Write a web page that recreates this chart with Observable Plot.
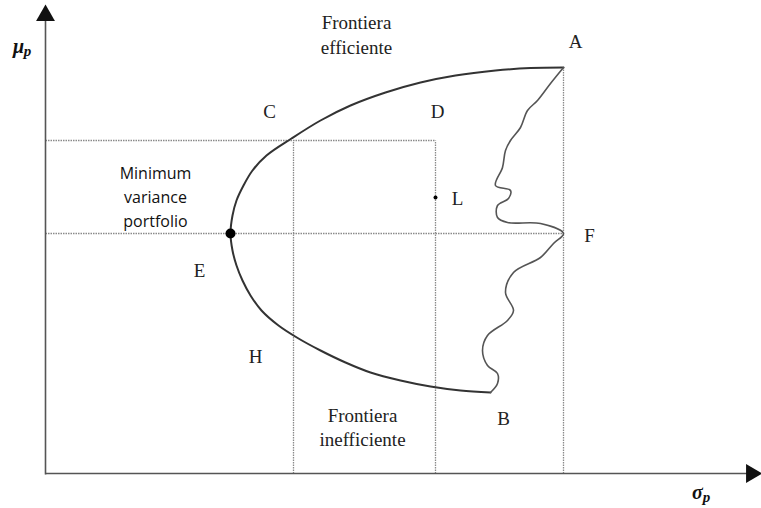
<!DOCTYPE html>
<html>
<head>
<meta charset="utf-8">
<script src="https://cdn.jsdelivr.net/npm/d3@7"></script>
<script src="https://cdn.jsdelivr.net/npm/@observablehq/plot@0.6"></script>
<style>
  html, body { margin: 0; padding: 0; background: #fff; }
</style>
</head>
<body>
<div id="chart"></div>
<script>
// Frontier (sigma, mu) from A through C, E, H to the bottom end near B
const frontierSigma = [518, 485, 450, 410, 375, 340, 305, 275, 246, 221, 207, 198, 191, 187, 185, 187, 191, 197, 205, 216, 233, 253, 275, 300, 325, 355, 385, 415, 445];
const frontierMu    = [406, 405.5, 403, 398, 391, 381, 368, 353, 335, 318, 303, 288, 273, 258, 240, 223, 208, 193, 178, 163, 148, 135, 123, 111, 101, 93, 87, 83, 81];

// Irregular right boundary, from the bottom end up to F then to A
const edgeSigma = [445, 452, 452, 442, 437, 442, 462, 468, 460, 468, 495, 508, 518, 495, 462, 452, 452, 463, 465, 450, 457, 460, 465, 475, 482, 492, 505, 518];
const edgeMu    = [81, 90, 100, 108, 123, 138, 153, 163, 181, 201, 216, 230, 240, 250, 251, 256, 268, 275, 283, 288, 306, 323, 333, 346, 363, 373, 390, 406];

// Key levels
const sigmaA = 518, muA = 406, muF = 240;
const sigmaE = 185, muE = 240;
const sigmaC = 248, muC = 333;
const sigmaD = 390, sigmaL = 390, muL = 276;

// Labels
const letterText = ["A", "C", "D", "L", "F", "E", "H", "B"];
const letterX    = [530, 224, 392, 412, 544, 154, 210, 458];
const letterY    = [432, 362, 362, 275, 238, 203, 117, 55];

const serifText = ["Frontiera", "efficiente", "Frontiera", "inefficiente"];
const serifX    = [311, 311, 317, 317];
const serifY    = [451, 426, 58, 34];

const mvText = ["Minimum", "variance", "portfolio"];
const mvX    = [110, 110, 110];
const mvY    = [300, 276, 252];

const frontier = frontierSigma.map((s, i) => ({s, m: frontierMu[i]}));
const edge = edgeSigma.map((s, i) => ({s, m: edgeMu[i]}));
const letters = letterText.map((t, i) => ({t, x: letterX[i], y: letterY[i]}));
const serifs = serifText.map((t, i) => ({t, x: serifX[i], y: serifY[i]}));
const mv = mvText.map((t, i) => ({t, x: mvX[i], y: mvY[i]}));

const guides = [
  {x1: sigmaA, y1: 0, x2: sigmaA, y2: muA},
  {x1: 0, y1: muF, x2: sigmaA, y2: muF},
  {x1: 0, y1: muC, x2: sigmaD, y2: muC},
  {x1: sigmaD, y1: 0, x2: sigmaD, y2: muC},
  {x1: sigmaC, y1: 0, x2: sigmaC, y2: muC}
];

const serif = "Liberation Serif, Times New Roman, serif";

const chart = Plot.plot({
  width: 761,
  height: 508,
  marginLeft: 45,
  marginRight: 6,
  marginTop: 10,
  marginBottom: 35,
  x: {domain: [0, 710], axis: null},
  y: {domain: [0, 463], axis: null},
  style: {background: "#fff", overflow: "visible"},
  marks: [
    // dotted guide lines
    Plot.link(guides, {x1: "x1", y1: "y1", x2: "x2", y2: "y2", stroke: "#8a8a8a", strokeWidth: 1.3, strokeDasharray: "1.5,1"}),
    // axes
    Plot.link([{x1: 0, y1: -1, x2: 0, y2: 455}], {x1: "x1", y1: "y1", x2: "x2", y2: "y2", stroke: "#555", strokeWidth: 1.6}),
    Plot.link([{x1: 0, y1: 0, x2: 705, y2: 0}], {x1: "x1", y1: "y1", x2: "x2", y2: "y2", stroke: "#555", strokeWidth: 1.6}),
    Plot.dot([{x: 0, y: 458}], {x: "x", y: "y", symbol: "triangle", r: 7, fill: "#111", stroke: "none"}),
    Plot.dot([{x: 706, y: 0}], {x: "x", y: "y", symbol: "triangle", r: 7, fill: "#111", stroke: "none", rotate: 90}),
    // frontier
    Plot.line(frontier, {x: "s", y: "m", curve: "catmull-rom", stroke: "#333", strokeWidth: 2}),
    Plot.line(edge, {x: "s", y: "m", curve: "catmull-rom", stroke: "#555", strokeWidth: 1.6}),
    // points
    Plot.dot([{x: sigmaE, y: muE}], {x: "x", y: "y", r: 5, fill: "#000"}),
    Plot.dot([{x: sigmaL, y: muL}], {x: "x", y: "y", r: 2, fill: "#000"}),
    // labels
    Plot.text(letters, {x: "x", y: "y", text: "t", fontFamily: serif, fontSize: 19, fill: "#222"}),
    Plot.text(serifs, {x: "x", y: "y", text: "t", fontFamily: serif, fontSize: 19, fill: "#222"}),
    Plot.text(mv, {x: "x", y: "y", text: "t", fontFamily: "Open Sans, sans-serif", fontSize: 16, fill: "#111"}),
    // axis titles
    Plot.text([{x: -27, y: 427}], {x: "x", y: "y", text: () => "μ", fontFamily: serif, fontSize: 20, fontWeight: "bold", fontStyle: "italic", fill: "#111"}),
    Plot.text([{x: -18, y: 422}], {x: "x", y: "y", text: () => "p", fontFamily: serif, fontSize: 15, fontWeight: "bold", fontStyle: "italic", fill: "#111"}),
    Plot.text([{x: 652, y: -19}], {x: "x", y: "y", text: () => "σ", fontFamily: serif, fontSize: 20, fontWeight: "bold", fontStyle: "italic", fill: "#111"}),
    Plot.text([{x: 661, y: -24}], {x: "x", y: "y", text: () => "p", fontFamily: serif, fontSize: 15, fontWeight: "bold", fontStyle: "italic", fill: "#111"})
  ]
});
document.getElementById("chart").appendChild(chart);
</script>
</body>
</html>
